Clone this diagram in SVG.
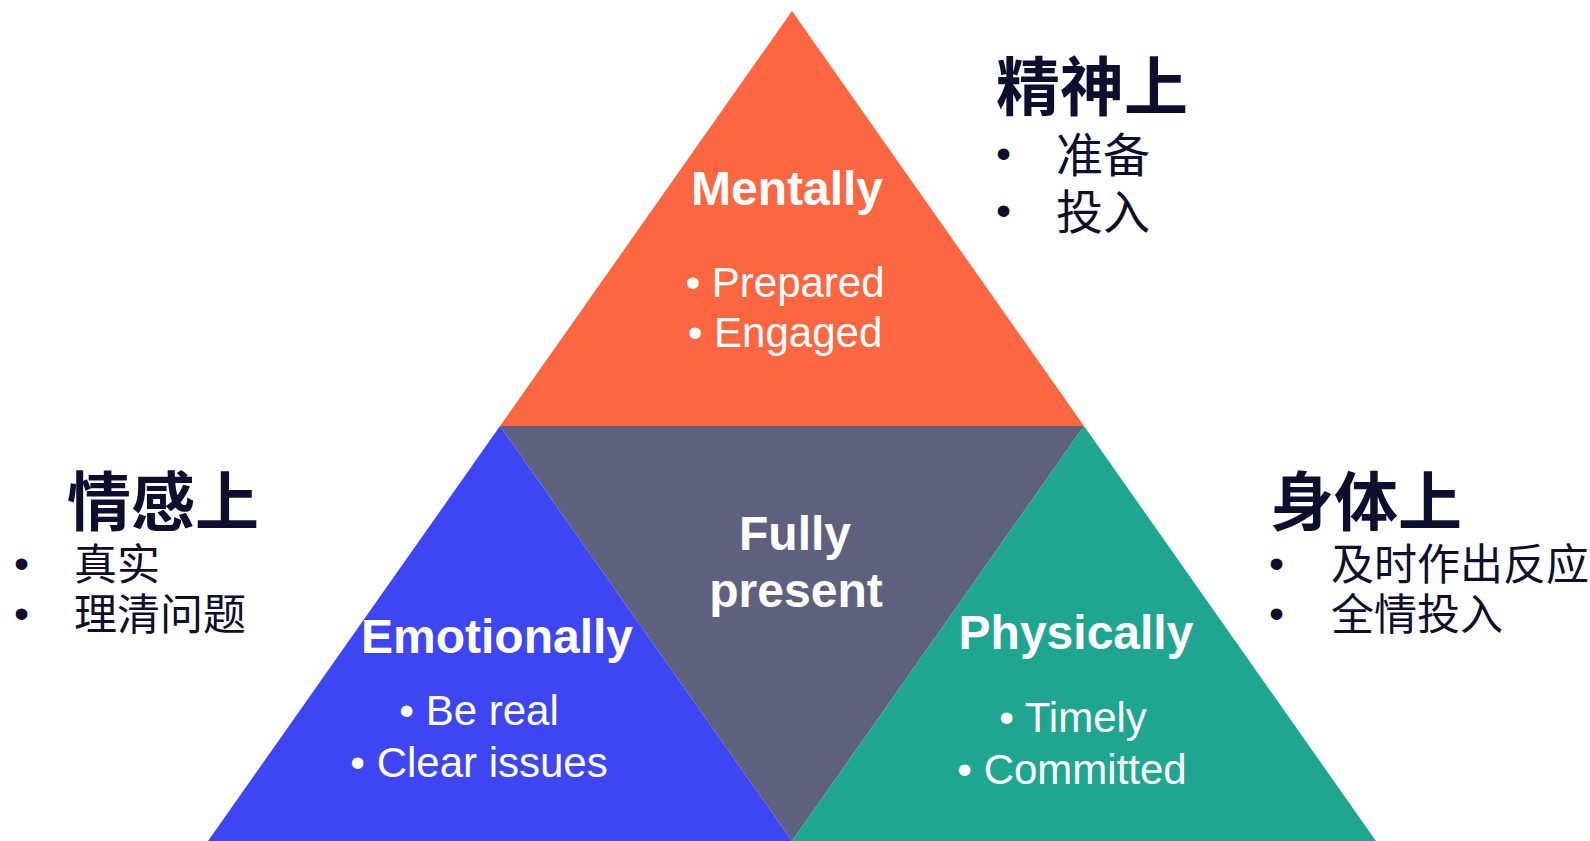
<svg xmlns="http://www.w3.org/2000/svg" width="1590" height="841" viewBox="0 0 1590 841">
<style>
.w{fill:#ffffff;font-family:"Liberation Sans",Arial,sans-serif;text-anchor:middle}
.b{font-weight:bold;font-size:48px}
.r{font-size:42px}
.h{fill:#0e0e2e;font-family:"Noto Sans CJK SC","Liberation Sans",sans-serif;font-weight:bold;font-size:64px}
.s{fill:#0e0e2e;font-family:"Noto Sans CJK SC","Liberation Sans",sans-serif;font-size:43px}
.m{font-size:47px}
.d{fill:#0e0e2e;font-family:"Liberation Sans",Arial,sans-serif;font-size:43px}
</style>
<rect width="1590" height="841" fill="#ffffff"/>
<g id="mentally">
<polygon points="792,11 500,426 1084,426" fill="#fc6640"/>
<text class="w b" x="787" y="205">Mentally</text>
<text class="w r" x="785" y="297">• Prepared</text>
<text class="w r" x="785" y="347">• Engaged</text>
</g>
<g id="fully-present">
<polygon points="500,426 1084,426 792,841" fill="#5e617e"/>
<text class="w b" x="795" y="550">Fully</text>
<text class="w b" x="796" y="607">present</text>
</g>
<g id="emotionally">
<polygon points="500,426 208,841 792,841" fill="#3e46f4"/>
<text class="w b" x="497" y="653">Emotionally</text>
<text class="w r" x="479" y="725">• Be real</text>
<text class="w r" x="479" y="777">• Clear issues</text>
</g>
<g id="physically">
<polygon points="1084,426 792,841 1376,841" fill="#1ea690"/>
<text class="w b" x="1076" y="649">Physically</text>
<text class="w r" x="1073" y="732">• Timely</text>
<text class="w r" x="1072" y="784">• Committed</text>
</g>
<g id="connectors"/>
<g id="label-mental">
<text class="h" x="996" y="110">精神上</text>
<text class="d" x="996" y="168">•</text>
<text class="s m" x="1056" y="172">准备</text>
<text class="d" x="996" y="225">•</text>
<text class="s m" x="1056" y="229">投入</text>
</g>
<g id="label-emotional">
<text class="h" x="67" y="525">情感上</text>
<text class="d" x="14" y="578">•</text>
<text class="s" x="74" y="580">真实</text>
<text class="d" x="14" y="628">•</text>
<text class="s" x="74" y="630">理清问题</text>
</g>
<g id="label-physical">
<text class="h" x="1270" y="525">身体上</text>
<text class="d" x="1269" y="578">•</text>
<text class="s" x="1331" y="580">及时作出反应</text>
<text class="d" x="1269" y="628">•</text>
<text class="s" x="1331" y="630">全情投入</text>
</g>
</svg>
